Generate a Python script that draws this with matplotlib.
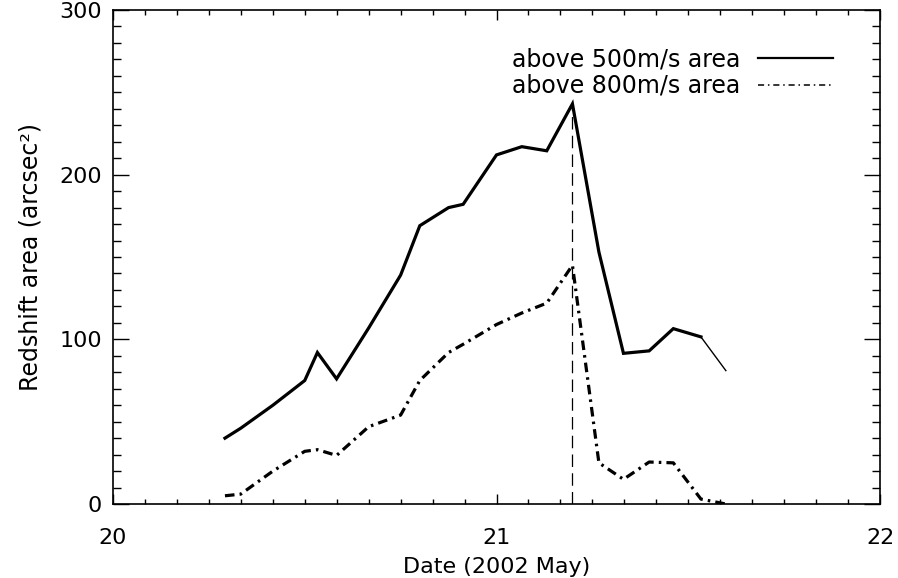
import matplotlib.pyplot as plt
from matplotlib.lines import Line2D
from matplotlib.ticker import MultipleLocator
import numpy as np

# observation times (days of 2002 May) and redshift areas in arcsec^2
dates = np.array([20.292, 20.333, 20.417, 20.500, 20.533, 20.583, 20.667,
                  20.750, 20.800, 20.875, 20.913, 21.000, 21.066, 21.131,
                  21.198, 21.267, 21.331, 21.398, 21.461, 21.533, 21.598])
area_500 = np.array([40, 46, 60, 75, 92, 76, 107, 139, 169, 180, 182,
                     212, 217, 214.5, 243, 153, 91.5, 93, 106.5, 101.5, 81])
area_800 = np.array([5, 6, 20, 32, 33, 29.5, 47, 54, 75, 92, 97,
                     109, 116, 122, 145, 25, 15, 25.5, 25, 3, 0])

plt.rcParams['font.family'] = 'DejaVu Sans'
plt.rcParams['font.size'] = 16

fig = plt.figure(figsize=(8.98, 5.78), dpi=100)
ax = fig.add_axes([0.1258, 0.128, 0.8542, 0.8547])

dashdot = (3.0, 1.6, 0.8, 1.6)

ax.plot(dates[:-1], area_500[:-1], color='k', lw=2.3, solid_joinstyle='miter')
ax.plot(dates[-2:], area_500[-2:], color='k', lw=1.0)
ax.plot(dates, area_800, color='k', lw=2.3, dashes=dashdot)

# peak time marker
ipk = np.argmax(area_500)
ax.vlines(dates[ipk], 0, area_500[ipk], colors='k', lw=0.9,
          linestyles=(0, (10, 5)))

ax.set_xlim(20, 22)
ax.set_ylim(0, 300)
ax.xaxis.set_major_locator(MultipleLocator(1))
ax.xaxis.set_minor_locator(MultipleLocator(1 / 12))
ax.yaxis.set_major_locator(MultipleLocator(100))
ax.yaxis.set_minor_locator(MultipleLocator(10))

ax.tick_params(axis='both', which='both', direction='in', top=True,
               right=True, width=1.0, colors='k')
ax.tick_params(axis='x', which='major', length=7.5, pad=17)
ax.tick_params(axis='x', which='minor', length=3.8)
ax.tick_params(axis='y', which='major', length=11.5, pad=8)
ax.tick_params(axis='y', which='minor', length=5.8)
for sp in ax.spines.values():
    sp.set_linewidth(1.2)

ax.set_xlabel('Date (2002 May)', labelpad=7)
ax.set_ylabel('Redshift area (arcsec²)', fontsize=17, labelpad=12)

handles = [Line2D([], [], color='k', lw=1.6),
           Line2D([], [], color='k', lw=1.1, dashes=(4, 2.5, 1, 2.5))]
ax.legend(handles, ['above 500m/s area', 'above 800m/s area'],
          loc='upper right', bbox_to_anchor=(0.939, 0.925), frameon=False,
          markerfirst=False, handlelength=3.2, handletextpad=0.75,
          labelspacing=0.12, borderpad=0, borderaxespad=0, fontsize=17)

plt.savefig('out.png')
